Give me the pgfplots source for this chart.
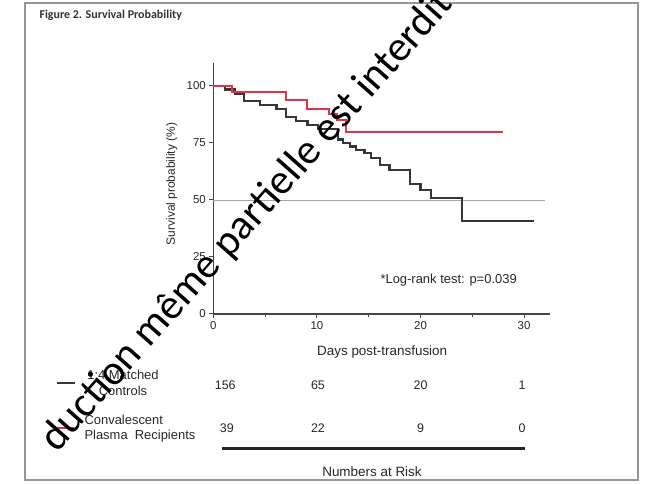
\documentclass[border=0pt]{standalone}
\usepackage{pgfplots}
\pgfplotsset{compat=1.18}
\usepackage{fontspec}
\setmainfont{Liberation Sans}
\newfontfamily\carlito{Carlito}
\definecolor{axisgray}{RGB}{70,70,70}
\definecolor{txt}{RGB}{40,40,40}
\definecolor{ctrl}{RGB}{55,55,55}
\definecolor{cp}{RGB}{228,50,72}
\definecolor{framegray}{RGB}{150,150,150}
\begin{document}
\begin{tikzpicture}[x=1bp,y=1bp]
\useasboundingbox (0,0) rectangle (646,484);
\fill[white] (0,0) rectangle (646,484);
% frame
\draw[framegray, line width=2bp] (25,481) rectangle (638,4);
% title
\node[anchor=base west, font=\carlito\bfseries\fontsize{12}{14}\selectfont, text=black!80] at (36,465) {Figure 2. Survival Probability};
\begin{axis}[
  scale only axis, width=336.7bp, height=250.8bp,
  at={(213.3bp,170bp)}, anchor=south west,
  xmin=0, xmax=32.5, ymin=0, ymax=110,
  axis x line*=bottom, axis y line*=left,
  axis line style={line width=1.2bp, draw=axisgray},
  xtick={0,10,20,30}, minor xtick={5,15,25}, ytick={0,25,50,75,100},
  tick align=outside, major tick length=4bp, minor tick length=3bp,
  every tick/.style={line width=1bp, draw=axisgray},
  ticklabel style={font=\fontsize{11.5}{13}\selectfont, text=txt},
  /pgf/number format/assume math mode=true,
  clip=false,
]
\addplot[draw=black!35, line width=0.8bp] coordinates {(0,50) (32,50)};
\addplot[const plot mark left, draw=ctrl, line width=2.2bp] coordinates {
(0,100) (1.1,98.5) (2.1,96.5) (3.0,93.5) (4.5,91.5) (6.1,90) (7.0,86.5)
(8.0,84.5) (9.1,83) (10.1,81.3) (12.0,76.5) (12.5,75) (13.2,73.5) (13.8,72)
(14.6,70.5) (15.2,68.5) (16.1,65.5) (17.0,63) (19.0,57) (20.0,54.3)
(21.0,50.8) (24.0,40.8) (31.0,40.8)};
\addplot[const plot mark left, draw=cp, line width=2bp] coordinates {
(0,100) (1.8,97.4) (7.0,94) (9.0,89.8) (11.2,87.5) (11.9,85) (12.8,80) (28,80)};
\node[anchor=west, font=\fontsize{13}{14}\selectfont, text=txt] at (axis cs:15.8,15) {*Log-rank test: p=0.039};
\node[font=\fontsize{13.5}{14}\selectfont, text=txt] at (axis cs:16.3,-16.7) {Days post-transfusion};
\node[rotate=90, font=\fontsize{12}{14}\selectfont, text=txt] at (axis cs:-4.0,57) {Survival probability (\%)};
% numbers at risk
\node[font=\fontsize{12.5}{14}\selectfont, text=txt] at (axis cs:1.15,-31.1) {156};
\node[font=\fontsize{12.5}{14}\selectfont, text=txt] at (axis cs:10.1,-31.1) {65};
\node[font=\fontsize{12.5}{14}\selectfont, text=txt] at (axis cs:20,-31.1) {20};
\node[font=\fontsize{12.5}{14}\selectfont, text=txt] at (axis cs:29.8,-31.1) {1};
\node[font=\fontsize{12.5}{14}\selectfont, text=txt] at (axis cs:1.3,-50) {39};
\node[font=\fontsize{12.5}{14}\selectfont, text=txt] at (axis cs:10.1,-50) {22};
\node[font=\fontsize{12.5}{14}\selectfont, text=txt] at (axis cs:20,-50) {9};
\node[font=\fontsize{12.5}{14}\selectfont, text=txt] at (axis cs:29.8,-50) {0};
\end{axis}
% legend of the risk table
\draw[ctrl, line width=2bp] (57,101) -- (75,101);
\draw[cp, line width=1.5bp] (55,56) -- (74,56);
\node[align=center, font=\fontsize{13}{16}\selectfont, text=txt] at (123,101) {1:4 Matched\\Controls};
\node[anchor=west, align=left, font=\fontsize{13}{15}\selectfont, text=txt] at (81,55) {Convalescent\\Plasma\ \ Recipients};
\draw[black!85, line width=3bp] (222,35) -- (525,35);
\node[font=\fontsize{13.5}{14}\selectfont, text=txt] at (372,12) {Numbers at Risk};
% watermark
\node[rotate=48.5, font=\carlito\fontsize{42.5}{44}\selectfont, text=black] at (254,270) {duction même partielle est interdite};
\end{tikzpicture}
\end{document}
